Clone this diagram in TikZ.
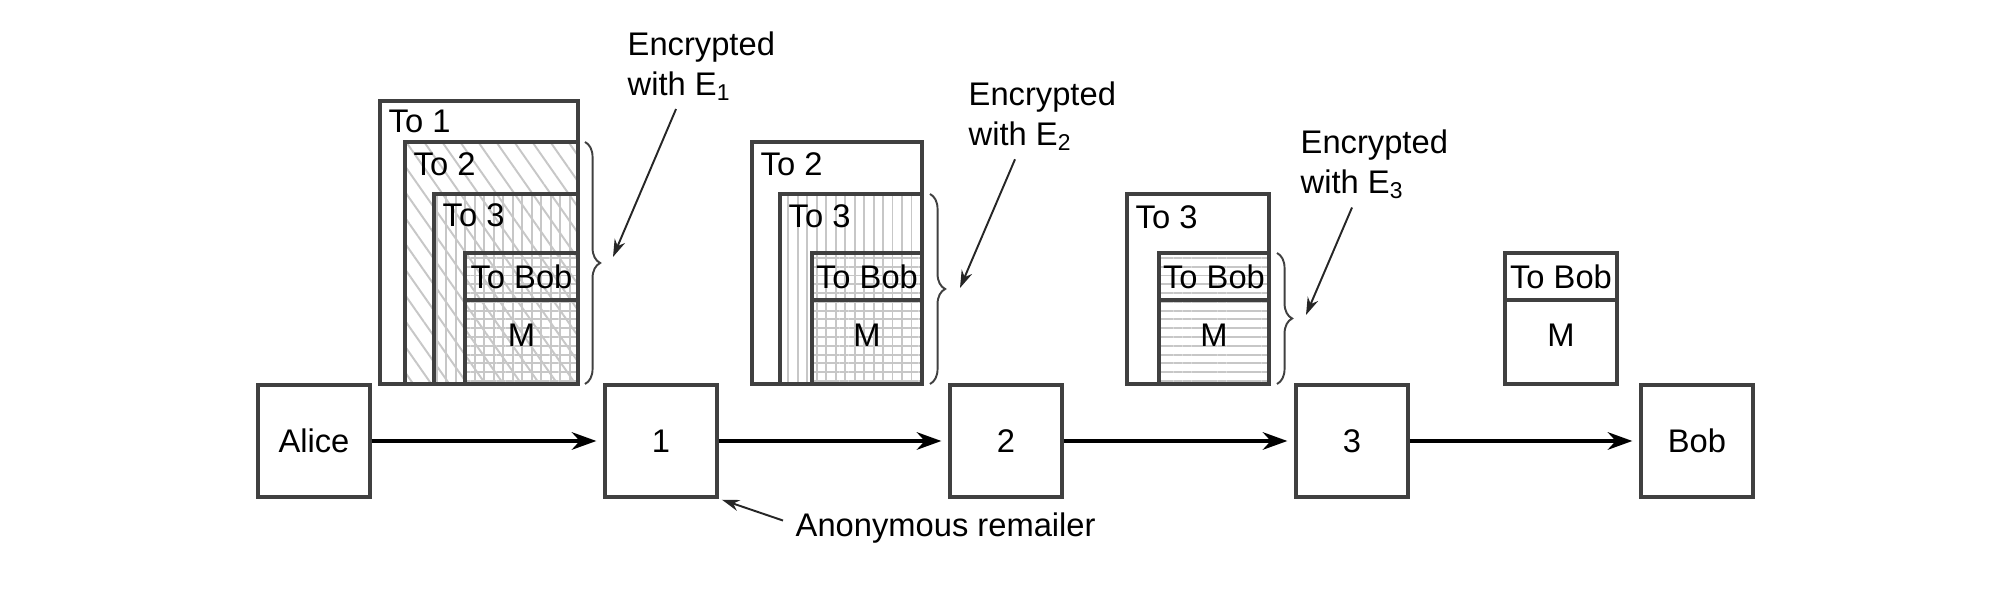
\documentclass[tikz,border=0pt]{standalone}
\usepackage{fontspec}
\setmainfont{Liberation Sans}
\usetikzlibrary{arrows.meta,patterns.meta,decorations.pathreplacing}

\begin{document}
\begin{tikzpicture}[x=0.01cm,y=-0.01cm,
    every node/.style={font=\fontsize{9.3}{11.4}\selectfont},
    host/.style={draw=black!75,line width=0.9pt,minimum width=1.12cm,minimum height=1.12cm,inner sep=0pt},
    frame/.style={draw=black!75,line width=0.9pt},
    tag/.style={anchor=west,inner sep=0pt},
    note/.style={anchor=north west,align=left,inner sep=0pt},
    hop/.style={-{Stealth[length=7pt,width=5pt]},line width=0.95pt,shorten >=2pt},
    pointer/.style={-{Stealth[length=5pt,width=3.2pt]},line width=0.55pt,black!85},
    wrap/.style={decorate,decoration={brace,amplitude=4.3pt},line width=0.55pt,black!75},
    slash/.style={pattern={Lines[angle=-55,distance=4.2pt,line width=0.55pt]},pattern color=black!22},
    vert/.style={pattern={Lines[angle=90,distance=2.7pt,line width=0.55pt]},pattern color=black!22},
    horiz/.style={pattern={Lines[angle=0,distance=2.5pt,line width=0.55pt]},pattern color=black!22}]
        \useasboundingbox (0,0) rectangle (1999,592);

        %%%%%%%% Hosts %%%%%%%%
        \node[host] (alice) at (314,441) {Alice};
        \node[host] (r1) at (661,441) {1};
        \node[host] (r2) at (1006,441) {2};
        \node[host] (r3) at (1352,441) {3};
        \node[host] (bob) at (1697,441) {Bob};

        %%%%%%%% Hops %%%%%%%%
        \draw[hop] (alice) -- (r1);
        \draw[hop] (r1) -- (r2);
        \draw[hop] (r2) -- (r3);
        \draw[hop] (r3) -- (bob);

        %%%%%%%% Packet 1 %%%%%%%%
        \fill[white] (380,101) rectangle (578,384);
        \path[slash] (405,142) rectangle (578,384);
        \path[vert] (434,194) rectangle (578,384);
        \path[horiz] (465,253) rectangle (578,384);
        \draw[frame] (380,101) rectangle (578,384);
        \draw[frame] (405,384) -- (405,142) -- (578,142);
        \draw[frame] (434,384) -- (434,194) -- (578,194);
        \draw[frame] (465,384) -- (465,253) -- (578,253);
        \draw[frame] (465,300) -- (578,300);
        \node[tag] (p1a) at (388,121) {To 1};
        \node[tag] (p1b) at (413,164) {To 2};
        \node[tag] (p1c) at (442,215) {To 3};
        \node[inner sep=0pt] (p1d) at (521.5,277) {To Bob};
        \node[inner sep=0pt] (p1m) at (521.5,335) {M};
        \draw[wrap] (585,142) -- (585,384);

        %%%%%%%% Packet 2 %%%%%%%%
        \fill[white] (752,142) rectangle (922,384);
        \path[vert] (780,194) rectangle (922,384);
        \path[horiz] (812,253) rectangle (922,384);
        \draw[frame] (752,142) rectangle (922,384);
        \draw[frame] (780,384) -- (780,194) -- (922,194);
        \draw[frame] (812,384) -- (812,253) -- (922,253);
        \draw[frame] (812,300) -- (922,300);
        \node[tag] (p2b) at (760,164) {To 2};
        \node[tag] (p2c) at (788,216) {To 3};
        \node[inner sep=0pt] (p2d) at (867,277) {To Bob};
        \node[inner sep=0pt] (p2m) at (867,335) {M};
        \draw[wrap] (930,194) -- (930,384);

        %%%%%%%% Packet 3 %%%%%%%%
        \fill[white] (1127,194) rectangle (1269,384);
        \path[horiz] (1159,253) rectangle (1269,384);
        \draw[frame] (1127,194) rectangle (1269,384);
        \draw[frame] (1159,384) -- (1159,253) -- (1269,253);
        \draw[frame] (1159,300) -- (1269,300);
        \node[tag] (p3c) at (1135,217) {To 3};
        \node[inner sep=0pt] (p3d) at (1214,277) {To Bob};
        \node[inner sep=0pt] (p3m) at (1214,335) {M};
        \draw[wrap] (1277,253) -- (1277,384);

        %%%%%%%% Packet 4 %%%%%%%%
        \draw[frame] (1505,253) rectangle (1617,384);
        \draw[frame] (1505,300) -- (1617,300);
        \node[inner sep=0pt] (p4d) at (1561,277) {To Bob};
        \node[inner sep=0pt] (p4m) at (1561,335) {M};

        %%%%%%%% Captions %%%%%%%%
        \node[note] (e1) at (627,31) {Encrypted\\with E\textsubscript{1}};
        \node[note] (e2) at (968,81) {Encrypted\\with E\textsubscript{2}};
        \node[note] (e3) at (1300,129) {Encrypted\\with E\textsubscript{3}};
        \coordinate (t1) at (613,257);
        \coordinate (t2) at (960,288);
        \coordinate (t3) at (1306,315);
        \draw[pointer] ([xshift=0.49cm,yshift=-0.08cm]e1.south west) -- (t1);
        \draw[pointer] ([xshift=0.47cm,yshift=-0.08cm]e2.south west) -- (t2);
        \draw[pointer] ([xshift=0.52cm,yshift=-0.08cm]e3.south west) -- (t3);

        \node[anchor=base west,inner sep=0pt] (anon) at (795,537) {Anonymous remailer};
        \draw[pointer,shorten >=1pt] ([xshift=-0.12cm,yshift=0.08cm]anon.west) -- (r1.south east);
    \end{tikzpicture}
\end{document}
